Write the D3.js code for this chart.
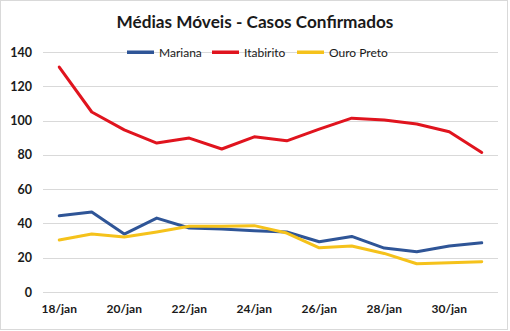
<!DOCTYPE html>
<html>
<head>
<meta charset="utf-8">
<script src="https://cdn.jsdelivr.net/npm/d3@7"></script>
<style>
  html, body { margin: 0; padding: 0; background: #fff; }
  svg { display: block; }
  text { font-family: Lato, "Open Sans", sans-serif; fill: #1a1a1a; }
</style>
</head>
<body>
<svg id="chart" width="510" height="331"></svg>
<script>
// Days of the moving-average series
const days = ["18/jan","19/jan","20/jan","21/jan","22/jan","23/jan","24/jan",
              "25/jan","26/jan","27/jan","28/jan","29/jan","30/jan","31/jan"];
const tickDays = ["18/jan","20/jan","22/jan","24/jan","26/jan","28/jan","30/jan"];
const yTicks = [0, 20, 40, 60, 80, 100, 120, 140];

// Moving averages of confirmed cases per city
const mariana   = [44.5, 46.6, 33.8, 43.1, 37.3, 36.7, 35.7, 35.0, 29.3, 32.4, 25.6, 23.5, 26.8, 28.7];
const itabirito = [131.2, 105.0, 94.6, 86.9, 89.8, 83.4, 90.5, 88.2, 95.0, 101.4, 100.3, 98.0, 93.5, 81.4];
const ouroPreto = [30.3, 33.8, 32.1, 35.0, 38.3, 38.3, 38.7, 34.4, 25.8, 26.8, 22.5, 16.5, 17.1, 17.7];

const seriesNames = ["Mariana", "Itabirito", "Ouro Preto"];
const seriesColors = ["#2f5597", "#e0141e", "#f5c21b"];
const seriesData = [mariana, itabirito, ouroPreto];

const svg = d3.select("#chart");
const W = 510, H = 331;
const m = { left: 43, right: 12, top: 52, bottom: 39 };

// Chart frame
svg.append("rect")
  .attr("x", 0.5).attr("y", 0.5)
  .attr("width", W - 3).attr("height", H - 2)
  .attr("fill", "#fff").attr("stroke", "#d9d9d9");

const x = d3.scaleBand().domain(days).range([m.left, W - m.right]);
const y = d3.scaleLinear().domain([0, 140]).range([H - m.bottom, m.top]);

// Gridlines
svg.append("g").selectAll("line").data(yTicks).join("line")
  .attr("x1", m.left).attr("x2", W - m.right)
  .attr("y1", d => Math.round(y(d)) + 0.5).attr("y2", d => Math.round(y(d)) + 0.5)
  .attr("stroke", "#d9d9d9").attr("stroke-width", 1);

// Y axis labels
const yAxis = d3.axisLeft(y).tickValues(yTicks).tickSize(0).tickPadding(11);
svg.append("g").attr("transform", `translate(${m.left},0)`).call(yAxis)
  .call(g => g.select(".domain").remove())
  .selectAll("text")
  .style("font-family", "Lato, 'Open Sans', sans-serif")
  .style("font-size", "12.5px").style("font-weight", "bold").attr("fill", "#1a1a1a");

// X axis labels
const xAxis = d3.axisBottom(x).tickValues(tickDays).tickSize(0).tickPadding(12);
svg.append("g").attr("transform", `translate(0,${H - m.bottom})`).call(xAxis)
  .call(g => g.select(".domain").remove())
  .selectAll("text")
  .style("font-family", "Lato, 'Open Sans', sans-serif")
  .style("font-size", "12px").style("font-weight", "bold").attr("fill", "#1a1a1a");

// Lines
const line = d3.line()
  .x((d, i) => x(days[i]) + x.bandwidth() / 2)
  .y(d => y(d));

svg.append("g").selectAll("path").data(seriesData).join("path")
  .attr("d", line)
  .attr("fill", "none")
  .attr("stroke", (d, i) => seriesColors[i])
  .attr("stroke-width", 3)
  .attr("stroke-linejoin", "round")
  .attr("stroke-linecap", "round");

// Title
svg.append("text")
  .attr("x", 255).attr("y", 28)
  .attr("text-anchor", "middle")
  .style("font-size", "17.2px").style("font-weight", "bold")
  .text("Médias Móveis - Casos Confirmados");

// Legend
const legendX = [127, 212, 297];
const lg = svg.append("g").selectAll("g").data(seriesNames).join("g")
  .attr("transform", (d, i) => `translate(${legendX[i]},${y(140)})`);
lg.append("rect")
  .attr("x", 0).attr("y", -1.5).attr("width", 27).attr("height", 3.5)
  .attr("fill", (d, i) => seriesColors[i]);
lg.append("text")
  .attr("x", 32).attr("y", 4.5)
  .style("font-size", "12px")
  .text(d => d);
</script>
</body>
</html>
